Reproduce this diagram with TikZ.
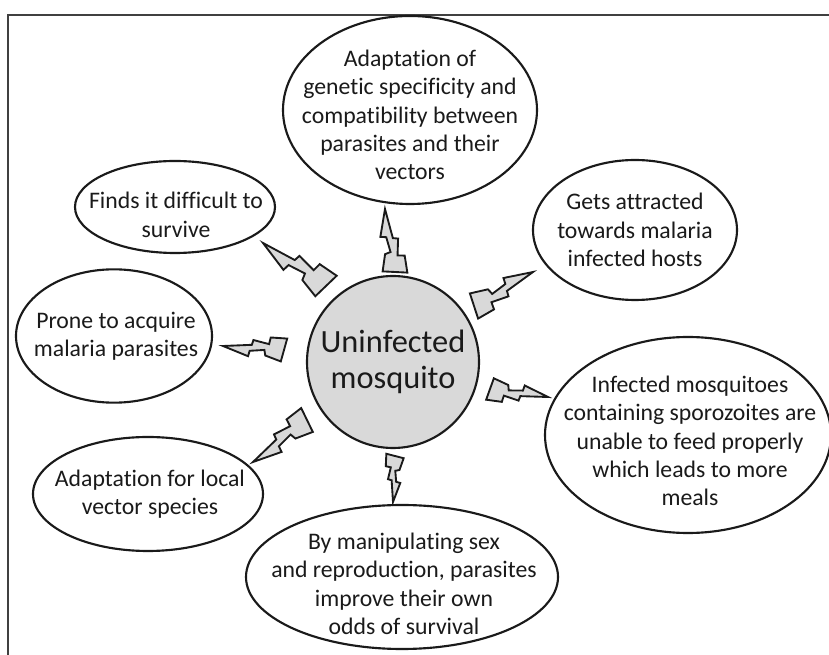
\documentclass[tikz,border=0pt]{standalone}
\usepackage{fontspec}
\setmainfont{Carlito}[Ligatures={NoCommon}]
\usetikzlibrary{calc,shapes.geometric}
\definecolor{mqink}{HTML}{1A1A1A}
\definecolor{mqgrey}{HTML}{D9D9D9}
\definecolor{mqframe}{HTML}{404040}
\tikzset{
  mq text/.style={font=\fontsize{17.8}{21.3}\selectfont, text=mqink, align=center},
  mq bubble/.style={draw=mqink, line width=1.6pt, ellipse, fill=white, inner sep=0pt},
  mq core/.style={draw=mqink, line width=1.6pt, circle, fill=mqgrey, inner sep=0pt,
    minimum size=129pt},
  mq core text/.style={font=\fontsize{24.3}{26.5}\selectfont, text=mqink, align=center},
  mq bolt/.style={draw=mqink, line width=1.4pt, fill=mqgrey, line join=miter},
  mq frame/.style={draw=mqframe, line width=1.1pt}
}
% lightning bolt from its wide end #1 to its tip #2
\newcommand{\mqbolt}[2]{%
  \begin{scope}[x={($(#2)-(#1)$)}, y={($(#1)!1!90:(#2)-(#1)$)}, shift={(#1)}]
    \draw[mq bolt] (0.04,0.19) -- (0.30,0.11) -- (0.32,0.02) -- (0.56,0.05)
      -- (0.58,0.14) -- (1,0) -- (0.53,-0.05) -- (0.51,-0.13) -- (0.25,-0.08)
      -- (0.23,-0.19) -- (-0.04,-0.19) -- cycle;
  \end{scope}}

\begin{document}
\begin{tikzpicture}[x=0.75pt, y=-0.75pt]
  \useasboundingbox (0,0) rectangle (829,655);
  \draw[mq frame] (829,15) -- (8,15) -- (8,655);

  % centre
  \node[mq core] (core) at (393,362) {};
  \node[mq core text] (core-txt) at (core) {Uninfected\\mosquito};

  % outer bubbles
  \node[mq bubble, minimum width=190.5pt, minimum height=141pt] (genetic) at (410,110) {};
  \node[mq text] (genetic-txt) at ($(genetic)+(0,5)$) {Adaptation of\\genetic specificity and\\compatibility between\\parasites and their\\vectors};
  \node[mq bubble, minimum width=150pt, minimum height=69pt] (survive) at (175,207) {};
  \node[mq text] (survive-txt) at ($(survive)+(1,8)$) {Finds it difficult to\\survive};
  \node[mq bubble, minimum width=153pt, minimum height=105pt] (attract) at (635,230) {};
  \node[mq text] (attract-txt) at (attract) {Gets attracted\\towards malaria\\infected hosts};
  \node[mq bubble, minimum width=147pt, minimum height=100pt] (prone) at (114,336) {};
  \node[mq text] (prone-txt) at ($(prone)+(2,0)$) {Prone to acquire\\malaria parasites};
  \node[mq bubble, minimum width=214.5pt, minimum height=147pt] (feed) at (688,435) {};
  \node[mq text] (feed-txt) at ($(feed)+(2,6)$) {Infected mosquitoes\\containing sporozoites are\\unable to feed properly\\which leads to more\\meals};
  \node[mq bubble, minimum width=172.5pt, minimum height=85.5pt] (local) at (148,494) {};
  \node[mq text] (local-txt) at ($(local)+(2,0)$) {Adaptation for local\\vector species};
  \node[mq bubble, minimum width=234pt, minimum height=108pt] (manip) at (402,577) {};
  \node[mq text] (manip-txt) at ($(manip)+(2,7)$) {By manipulating sex\\and reproduction, parasites\\improve their own\\odds of survival};

  % bolts: wide end, tip
  \coordinate (b1) at (326,286); \coordinate (b1t) at (263,243);
  \coordinate (b2) at (395,272); \coordinate (b2t) at (385,209);
  \coordinate (b3) at (474,306); \coordinate (b3t) at (533,272);
  \coordinate (b4) at (284,350); \coordinate (b4t) at (223,346);
  \coordinate (b5) at (307,420); \coordinate (b5t) at (253,462);
  \coordinate (b6) at (395,456); \coordinate (b6t) at (393,502);
  \coordinate (b7) at (490,389); \coordinate (b7t) at (548,397);
  \mqbolt{b1}{b1t}
  \mqbolt{b2}{b2t}
  \mqbolt{b3}{b3t}
  \mqbolt{b4}{b4t}
  \mqbolt{b5}{b5t}
  \mqbolt{b6}{b6t}
  \mqbolt{b7}{b7t}
\end{tikzpicture}
\end{document}
